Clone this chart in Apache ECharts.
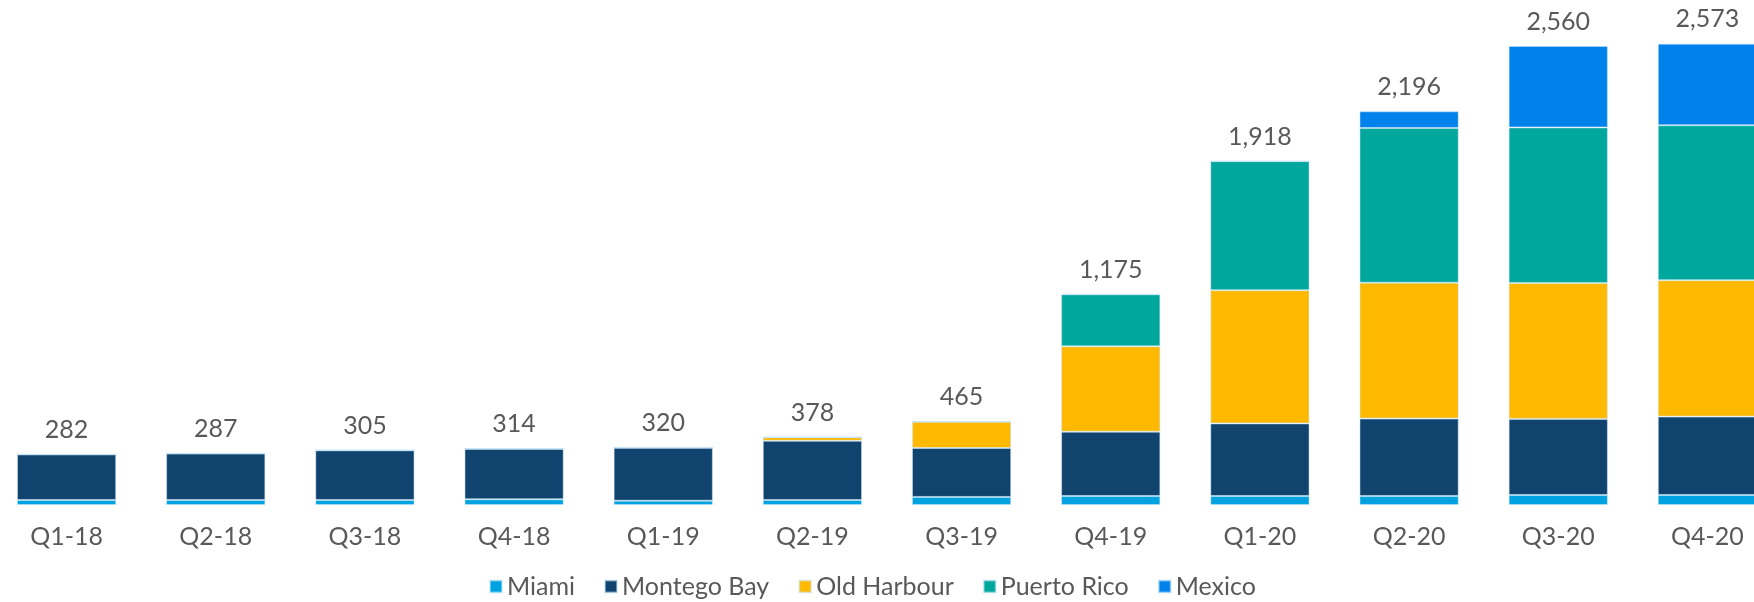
<!DOCTYPE html>
<html>
<head>
<meta charset="utf-8">
<script src="https://cdn.jsdelivr.net/npm/echarts@6/dist/echarts.min.js"></script>
<style>
  html, body { margin: 0; padding: 0; background: #fff; overflow: hidden; }
  /* the last bar is cut by the right edge in the original, so the chart runs a bit past the window */
  #chart { position: absolute; left: -8px; top: 0; width: 1790px; height: 602px; }
</style>
</head>
<body>
<div id="chart"></div>
<script>
// quarters and values
var quarters = ['Q1-18', 'Q2-18', 'Q3-18', 'Q4-18', 'Q1-19', 'Q2-19', 'Q3-19', 'Q4-19', 'Q1-20', 'Q2-20', 'Q3-20', 'Q4-20'];
var miami      = [28, 28, 28, 32, 24, 28, 45, 50, 50, 50, 56, 56];
var montegoBay = [254, 259, 277, 282, 296, 330, 273, 359, 405, 432, 424, 437];
var oldHarbour = [0, 0, 0, 0, 0, 20, 147, 476, 743, 758, 758, 761];
var puertoRico = [0, 0, 0, 0, 0, 0, 0, 290, 720, 863, 868, 864];
var mexico     = [0, 0, 0, 0, 0, 0, 0, 0, 0, 93, 454, 455];
var totals     = [282, 287, 305, 314, 320, 378, 465, 1175, 1918, 2196, 2560, 2573];

var seriesNames = ['Miami', 'Montego Bay', 'Old Harbour', 'Puerto Rico', 'Mexico'];
var seriesColors = ['#00A3E0', '#10436E', '#FFB900', '#00A79D', '#0082EA'];
var seriesData = [miami, montegoBay, oldHarbour, puertoRico, mexico];

var textColor = '#595959';
var fontFamily = 'Lato, "Open Sans", sans-serif';

var myChart = echarts.init(document.getElementById('chart'));

var series = seriesNames.map(function(name, i) {
    return {
        name: name,
        type: 'bar',
        stack: 'total',
        barCategoryGap: '33.5%',
        itemStyle: {
            color: seriesColors[i],
            borderColor: 'rgba(200,230,250,0.5)',
            borderWidth: 1
        },
        data: seriesData[i]
    };
});

// zero-height bar on top of the stack that carries the total label
series.push({
    name: 'Total',
    type: 'bar',
    stack: 'total',
    barCategoryGap: '33.5%',
    itemStyle: { color: 'transparent' },
    label: {
        show: true,
        position: 'top',
        distance: 12,
        color: textColor,
        fontFamily: fontFamily,
        fontSize: 25,
        formatter: function(p) {
            return totals[p.dataIndex].toLocaleString('en-US');
        }
    },
    data: totals.map(function() { return 0; })
});

var option = {
    animation: false,
    grid: {
        left: 0,
        right: 0,
        top: 3,
        bottom: 97,
        containLabel: false
    },
    legend: {
        data: seriesNames,
        bottom: 3,
        left: 497,
        padding: 0,
        icon: 'rect',
        itemWidth: 12,
        itemHeight: 12,
        itemGap: 29,
        textStyle: {
            color: textColor,
            fontFamily: fontFamily,
            fontSize: 25
        }
    },
    xAxis: {
        type: 'category',
        data: quarters,
        axisLine: { show: false },
        axisTick: { show: false },
        axisLabel: {
            color: textColor,
            fontFamily: fontFamily,
            fontSize: 25,
            margin: 19
        }
    },
    yAxis: {
        type: 'value',
        min: 0,
        max: 2800,
        show: false,
        splitLine: { show: false }
    },
    series: series
};

myChart.setOption(option);
</script>
</body>
</html>
